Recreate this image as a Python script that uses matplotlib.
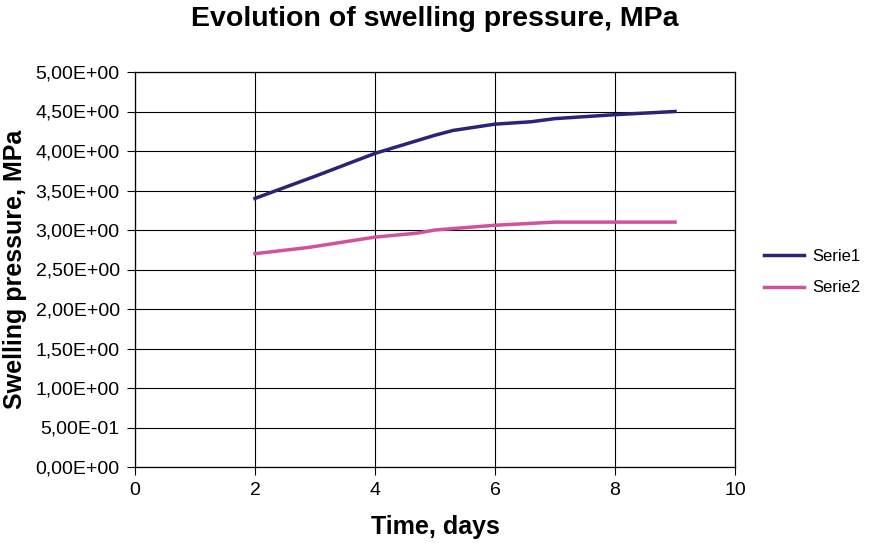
import matplotlib
matplotlib.use("Agg")
import matplotlib.pyplot as plt
from matplotlib.ticker import FuncFormatter, MultipleLocator

plt.rcParams['font.family'] = ['Liberation Sans', 'DejaVu Sans']

x1 = [2, 3, 4, 5, 5.3, 6, 6.6, 7, 8, 9]
y1 = [3.40, 3.68, 3.97, 4.20, 4.26, 4.34, 4.37, 4.41, 4.46, 4.50]
x2 = [2, 2.9, 4, 4.7, 5, 6, 7, 8, 9]
y2 = [2.70, 2.78, 2.91, 2.96, 3.00, 3.06, 3.10, 3.10, 3.10]
labels = ["Serie1", "Serie2"]

fig = plt.figure(figsize=(8.69, 5.45), dpi=100)
ax = fig.add_axes([135/869, 1-467/545, 600/869, 395/545])

ax.plot(x1, y1, color='#2a2379', lw=2.5, label=labels[0], solid_joinstyle='round')
ax.plot(x2, y2, color='#d0519c', lw=2.5, label=labels[1], solid_joinstyle='round')

ax.set_xlim(0, 10)
ax.set_ylim(0, 5)
ax.xaxis.set_major_locator(MultipleLocator(2))
ax.yaxis.set_major_locator(MultipleLocator(0.5))

def fmt(v, pos):
    s = "%.2E" % v
    mant, exp = s.split("E")
    e = int(exp)
    return mant.replace(".", ",") + "E" + ("+" if e >= 0 else "-") + "%02d" % abs(e)

ax.yaxis.set_major_formatter(FuncFormatter(fmt))
ax.grid(True, color='black', lw=0.8)
ax.set_axisbelow(True)
for sp in ax.spines.values():
    sp.set_color('black')
    sp.set_linewidth(0.9)
ax.tick_params(direction='out', length=6, width=0.8, labelsize=14, colors='black', pad=5)

fig.text(0.5, 1-19/545, "Evolution of swelling pressure, MPa", ha='center', va='center',
         fontsize=20.5, fontweight='bold')
ax.set_xlabel("Time, days", fontsize=18, fontweight='bold', labelpad=11)
ax.set_ylabel("Swelling pressure, MPa", fontsize=18, fontweight='bold', labelpad=6)

leg = fig.legend(loc='center left', bbox_to_anchor=(764/869, 1-272/545), frameon=False,
                 fontsize=12, handlelength=2.4, handletextpad=0.5, labelspacing=1.0,
                 borderpad=0, borderaxespad=0)

fig.savefig("out.png", dpi=100)
